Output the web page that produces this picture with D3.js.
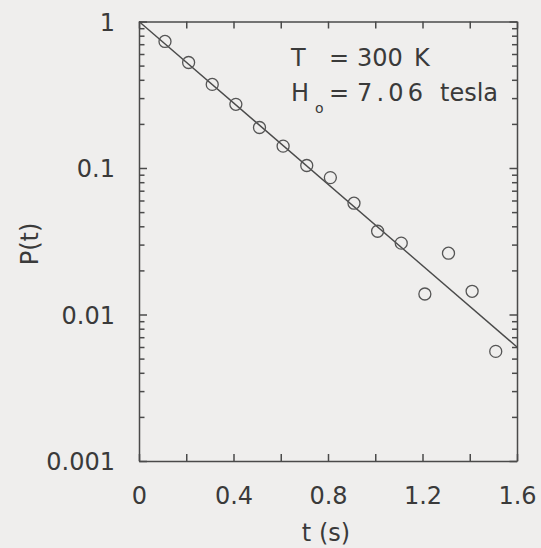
<!DOCTYPE html>
<html>
<head>
<meta charset="utf-8">
<script src="https://cdn.jsdelivr.net/npm/d3@7"></script>
<style>
  body { margin: 0; background: #efeeed; }
  svg { display: block; font-family: "DejaVu Sans", sans-serif; }
  .tick text { font-family: "DejaVu Sans", sans-serif; font-size: 24px; fill: #3a3a3a; }
  .domain, .tick line { stroke: #4a4a4a; stroke-width: 1.5; }
</style>
</head>
<body>
<div class="chart"></div>
<script>
// measured points
const tValues = [0.11, 0.21, 0.31, 0.41, 0.51, 0.61, 0.71, 0.81, 0.91, 1.01, 1.11, 1.21, 1.31, 1.41, 1.51];
const pValues = [0.731, 0.525, 0.372, 0.272, 0.189, 0.141, 0.104, 0.086, 0.0575, 0.037, 0.0307, 0.0138, 0.0262, 0.0144, 0.0056];

// exponential fit, drawn as a straight line on the log axis
const fitT = [0, 1.6];
const fitP = [1.0, 0.0060];

const xTicks = [0, 0.2, 0.4, 0.6, 0.8, 1.0, 1.2, 1.4, 1.6];
const xLabels = [0, 0.4, 0.8, 1.2, 1.6];
const yLabels = [0.001, 0.01, 0.1, 1];

const w = 541;
const h = 548;
const mLeft = 139, mRight = 517, mTop = 21.5, mBottom = 461;

const svg = d3.select('.chart')
  .append('svg')
    .attr('width', w)
    .attr('height', h);

svg.append('rect')
  .attr('width', w)
  .attr('height', h)
  .attr('fill', '#efeeed');

const x = d3.scaleLinear().domain([0, 1.6]).range([mLeft, mRight]);
const y = d3.scaleLog().domain([0.001, 1]).range([mBottom, mTop]);

const logTicks = y.ticks();
const isMajor = d => yLabels.some(v => Math.abs(v - d) / v < 1e-6);

//left axis
const gLeft = svg.append('g')
  .attr('transform', `translate(${mLeft},0)`)
  .call(d3.axisLeft(y)
    .tickValues(logTicks)
    .tickSizeInner(-5.5)
    .tickSizeOuter(0)
    .tickPadding(24)
    .tickFormat(d => isMajor(d) ? String(d) : ''));
gLeft.selectAll('.tick')
  .filter(d => isMajor(d))
  .select('line').attr('x2', 8);
gLeft.selectAll('.tick text').attr('dy', '0.36em');

//right axis
const gRight = svg.append('g')
  .attr('transform', `translate(${mRight},0)`)
  .call(d3.axisRight(y)
    .tickValues(logTicks)
    .tickSizeInner(-5)
    .tickSizeOuter(0)
    .tickFormat(''));
gRight.selectAll('.tick')
  .filter(d => isMajor(d))
  .select('line').attr('x2', -7.5);

//bottom axis
svg.append('g')
  .attr('transform', `translate(0,${mBottom})`)
  .call(d3.axisBottom(x)
    .tickValues(xTicks)
    .tickSizeInner(-7)
    .tickSizeOuter(0)
    .tickPadding(26)
    .tickFormat(d => xLabels.includes(d) ? d3.format('.1~f')(d) : ''));

//top axis
svg.append('g')
  .attr('transform', `translate(0,${mTop})`)
  .call(d3.axisTop(x)
    .tickValues(xTicks)
    .tickSizeInner(-7)
    .tickSizeOuter(0)
    .tickFormat(''));

svg.selectAll('.domain').attr('fill', 'none');

//fit line
const fit = fitT.map((t, i) => [t, fitP[i]]);
svg.append('path')
  .datum(fit)
  .attr('d', d3.line().x(d => x(d[0])).y(d => y(d[1])))
  .attr('fill', 'none')
  .attr('stroke', '#4a4a4a')
  .attr('stroke-width', 1.4);

//points
svg.append('g')
  .selectAll('circle')
  .data(tValues.map((t, i) => [t, pValues[i]]))
  .enter().append('circle')
    .attr('cx', d => x(d[0]))
    .attr('cy', d => y(d[1]))
    .attr('r', 6)
    .attr('fill', 'none')
    .attr('stroke', '#555')
    .attr('stroke-width', 1.3);

//annotation
const note = svg.append('g')
  .attr('fill', '#3a3a3a')
  .style('font-size', '24px');

const line1 = note.append('text').attr('y', 66);
line1.append('tspan').attr('x', 291).text('T');
line1.append('tspan').attr('x', 329).text('=');
line1.append('tspan').attr('x', 357).text('300');
line1.append('tspan').attr('x', 414).text('K');

const line2 = note.append('text').attr('y', 100.5);
line2.append('tspan').attr('x', 291).text('H');
line2.append('tspan').attr('x', 329).text('=');
line2.append('tspan').attr('x', 357).attr('textLength', 66).attr('lengthAdjust', 'spacing').text('7.06');
line2.append('tspan').attr('x', 440).text('tesla');
note.append('text')
  .attr('x', 315)
  .attr('y', 113)
  .style('font-size', '14px')
  .text('o');

//axis titles
svg.append('text')
  .attr('x', 326)
  .attr('y', 541)
  .attr('text-anchor', 'middle')
  .attr('fill', '#3a3a3a')
  .style('font-size', '24px')
  .text('t (s)');

svg.append('text')
  .attr('transform', 'translate(38,244) rotate(-90)')
  .attr('text-anchor', 'middle')
  .attr('fill', '#3a3a3a')
  .style('font-size', '24px')
  .text('P(t)');
</script>
</body>
</html>
